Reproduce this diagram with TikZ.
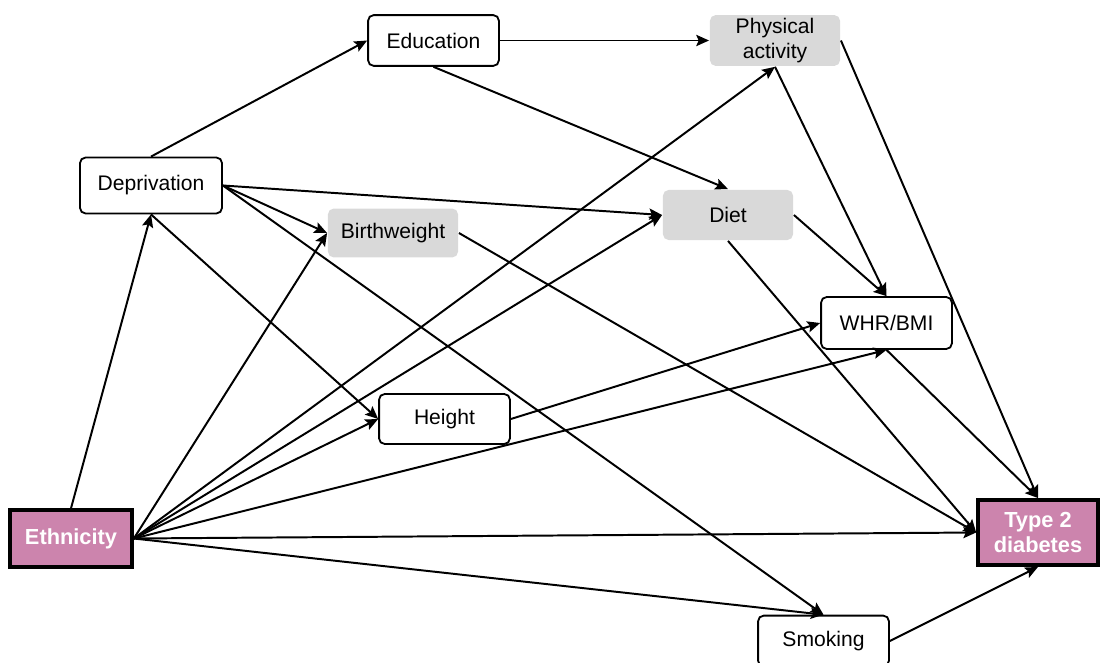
\documentclass[tikz,border=0pt]{standalone}
\usepackage{fontspec}
\setmainfont{Liberation Sans}
\usepackage{xcolor}
\usetikzlibrary{calc, arrows.meta}

\definecolor{outcome pink}{HTML}{CC84AD}
\definecolor{box grey}{HTML}{D9D9D9}

\begin{document}
\begin{tikzpicture}[x = 0.025cm, y = -0.025cm,
		font = \fontsize{15}{17.5}\selectfont,
		factor/.style = {draw, line width = 1.3pt, rounded corners = 4pt, fill = white, align = center, minimum width = 3.27cm, minimum height = 1.27cm, inner sep = 0pt},
		mediator/.style = {factor, draw = none, fill = box grey},
		endpoint/.style = {draw, line width = 2.6pt, fill = outcome pink, text = white, font = \fontsize{15.5}{18}\selectfont\bfseries, align = center, inner sep = 0pt},
		path arrow/.style = {line width = 1.4pt, -{Stealth[length = 3.2mm, width = 2.8mm, inset = 0.6mm]}}]
		
		\useasboundingbox (0,0) rectangle (1100,663);
		
		\node [factor] (education) at (433.5,40.5) {Education};
		\node [mediator, minimum width = 3.25cm] (physical activity) at (775,40.5) {Physical\\activity};
		\node [factor, minimum width = 3.55cm, minimum height = 1.4cm] (deprivation) at (151,185.5) {Deprivation};
		\node [mediator, minimum width = 3.25cm, minimum height = 1.22cm] (birthweight) at (393,233) {Birthweight};
		\node [mediator, minimum width = 3.25cm, minimum height = 1.25cm] (diet) at (728,215) {Diet};
		\node [factor, minimum height = 1.3cm] (whr bmi) at (886.5,323) {WHR/BMI};
		\node [factor, minimum height = 1.25cm] (height) at (444.5,419) {Height};
		\node [factor] (smoking) at (823.5,641) {Smoking};
		
		\node [endpoint, minimum width = 3.05cm, minimum height = 1.42cm] (ethnicity) at (71,538.5) {Ethnicity};
		\node [endpoint, minimum width = 3.0cm, minimum height = 1.63cm] (type 2 diabetes) at (1038,532.5) {Type 2\\diabetes};
		
		% ethnicity
		\draw [path arrow] (ethnicity.north) -- (deprivation.south);
		\draw [path arrow] (ethnicity.east) -- (birthweight.west);
		\draw [path arrow] (ethnicity.east) -- (physical activity.south);
		\draw [path arrow] (ethnicity.east) -- (diet.west);
		\draw [path arrow] (ethnicity.east) -- (height.west);
		\draw [path arrow] (ethnicity.east) -- (whr bmi.south);
		\draw [path arrow] (ethnicity.east) -- (type 2 diabetes.west);
		\draw [path arrow] (ethnicity.east) -- (smoking.north);
		
		% deprivation
		\draw [path arrow] (deprivation.north) -- (education.west);
		\draw [path arrow] (deprivation.east) -- (diet.west);
		\draw [path arrow] (deprivation.east) -- (birthweight.west);
		\draw [path arrow] (deprivation.east) -- (smoking.north);
		\draw [path arrow] (deprivation.south) -- (height.west);
		
		% mediators
		\draw [path arrow] (education.east) -- (physical activity.west);
		\draw [path arrow] (education.south) -- (diet.north);
		\draw [path arrow] (physical activity.south) -- (whr bmi.north);
		\draw [path arrow] (physical activity.east) -- (type 2 diabetes.north);
		\draw [path arrow] (diet.east) -- (whr bmi.north);
		\draw [path arrow] (diet.south) -- (type 2 diabetes.west);
		\draw [path arrow] (birthweight.east) -- (type 2 diabetes.west);
		\draw [path arrow] (height.east) -- (whr bmi.west);
		\draw [path arrow] (whr bmi.south) -- (type 2 diabetes.north);
		\draw [path arrow] (smoking.east) -- (type 2 diabetes.south);
	\end{tikzpicture}
\end{document}
